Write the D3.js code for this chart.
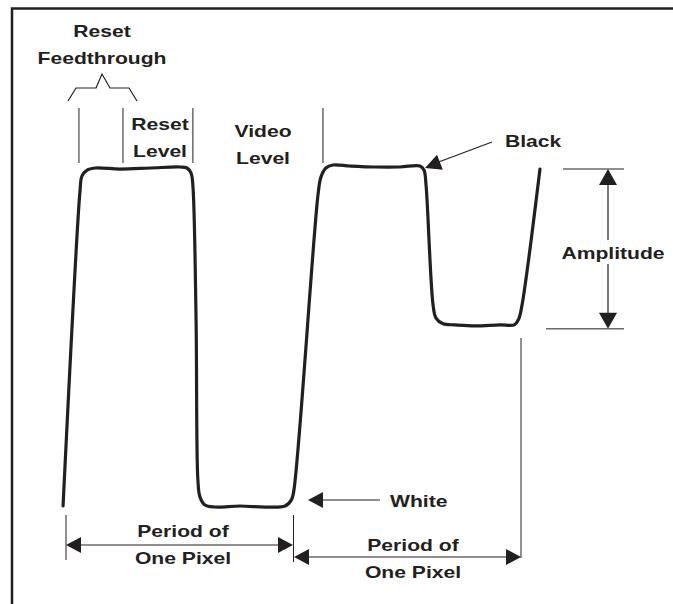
<!DOCTYPE html>
<html>
<head>
<meta charset="utf-8">
<script src="https://cdn.jsdelivr.net/npm/d3@7"></script>
<style>
  body { margin: 0; background: #fff; }
  text { font-family: "Liberation Sans", Arial, sans-serif; font-weight: bold; fill: #231f20; }
</style>
</head>
<body>
<script>
// CCD output waveform diagram

var width = 673,
    height = 604;

// waveform samples: t in pixel periods, v as level (0 = white, 1 = reset/black)
var waveT = [-0.013, 0.062, 0.070, 0.093, 0.128, 0.238, 0.370, 0.502, 0.533, 0.551, 0.559, 0.573, 0.581, 0.590, 0.612, 0.656, 0.767, 0.877, 0.965, 0.993, 1.004, 1.110, 1.123, 1.145, 1.176, 1.251, 1.361, 1.471, 1.559, 1.577, 1.586, 1.617, 1.630, 1.661, 1.714, 1.802, 1.912, 1.975, 1.994, 2.009, 2.088];
var waveV = [-0.003, 0.932, 0.973, 0.991, 0.997, 0.994, 0.997, 1.0, 0.997, 0.982, 0.944, 0.547, 0.074, 0.024, 0.0, -0.006, -0.003, -0.006, -0.003, 0.015, 0.044, 0.917, 0.970, 0.997, 1.006, 1.003, 1.0, 1.0, 1.003, 0.991, 0.947, 0.592, 0.553, 0.536, 0.533, 0.530, 0.533, 0.533, 0.550, 0.592, 0.994];

// reset feedthrough / reset level / video level marker positions (pixel periods)
var phaseMarks = [0.057, 0.251, 0.559, 1.132];
var periods = [0, 1, 2];
var blackLevel = 1, videoLevel = 0.533, whiteLevel = 0;

var svg = d3.select("body")
            .append("svg")
            .attr("width", width)
            .attr("height", height);

var x = d3.scaleLinear().domain([0, 2]).range([66, 520]);
var y = d3.scaleLinear().domain([0, 1]).range([505, 167]);

var ink = "#231f20";

// frame (top and left edge only visible)
svg.append("path")
    .attr("d", "M12,640V8.5H690")
    .attr("fill", "none")
    .attr("stroke", ink)
    .attr("stroke-width", 2.5);

// arrowhead helper: filled triangle with tip at (tx,ty) pointing in dir (radians)
function arrowHead(tx, ty, ang, len, half) {
  var bx = tx - len * Math.cos(ang), by = ty - len * Math.sin(ang);
  var px = -Math.sin(ang) * half, py = Math.cos(ang) * half;
  svg.append("path")
      .attr("d", "M" + tx + "," + ty + "L" + (bx + px) + "," + (by + py) + "L" + (bx - px) + "," + (by - py) + "Z")
      .attr("fill", ink);
}
function line(x1, y1, x2, y2, w) {
  svg.append("line")
      .attr("x1", x1).attr("y1", y1).attr("x2", x2).attr("y2", y2)
      .attr("stroke", ink).attr("stroke-width", w || 1.2);
}

// waveform
var wave = d3.line()
    .x(function(d) { return x(d[0]); })
    .y(function(d) { return y(d[1]); })
    .curve(d3.curveCatmullRom.alpha(0.5));

svg.append("path")
    .datum(d3.zip(waveT, waveV))
    .attr("d", wave)
    .attr("fill", "none")
    .attr("stroke", ink)
    .attr("stroke-width", 3.2)
    .attr("stroke-linejoin", "round")
    .attr("stroke-linecap", "round");

// phase marker lines
phaseMarks.forEach(function(t) {
  line(x(t), 108, x(t), 163, 1);
});

// reset feedthrough brace
svg.append("path")
    .attr("d", "M68,101L76,88H96L102,74L110,88H129L137,101")
    .attr("fill", "none")
    .attr("stroke", ink)
    .attr("stroke-width", 1.2);

// labels are slightly stretched horizontally like the source artwork
function label(tx, ty, lines, anchor, dy) {
  var t = svg.append("g")
      .attr("transform", "translate(" + tx + "," + ty + ") scale(1.28,1)")
    .append("text")
      .attr("text-anchor", anchor || "middle")
      .attr("font-size", 16.5);
  lines.forEach(function(s, i) {
    t.append("tspan").attr("x", 0).attr("dy", i ? (dy || 27) : 0).text(s);
  });
  return t;
}

label(102, 37, ["Reset", "Feedthrough"]);
label(160, 130, ["Reset", "Level"]);
label(263, 137, ["Video", "Level"]);

// Black arrow
line(492, 142, 436, 163, 1.2);
arrowHead(425, 168, Math.atan2(168 - 142, 425 - 492), 16, 8);
label(505, 147, ["Black"], "start");

// White arrow
line(380, y(whiteLevel) - 5, 318, y(whiteLevel) - 5, 1.2);
arrowHead(308, y(whiteLevel) - 5, Math.PI, 15, 8);
label(390, 507, ["White"], "start");

// Amplitude
line(563, y(blackLevel) + 2, 624, y(blackLevel) + 2, 1);
line(546, y(videoLevel) + 4, 624, y(videoLevel) + 4, 1);
line(608, y(blackLevel) + 14, 608, y(videoLevel) - 10, 1.2);
arrowHead(608, y(blackLevel) + 2, -Math.PI / 2, 16, 9);
arrowHead(608, y(videoLevel) + 4, Math.PI / 2, 16, 9);
svg.append("rect").attr("x", 558).attr("y", 240).attr("width", 110).attr("height", 24).attr("fill", "#fff");
label(613, 259, ["Amplitude"]);

// period ticks
line(x(periods[0]), 515, x(periods[0]), 560, 1);
line(x(periods[1]) + 0.5, 515, x(periods[1]) + 0.5, 562, 1);
line(x(periods[2]) + 1, 338, x(periods[2]) + 1, 558, 1);

// period arrows
line(x(periods[0]) + 10, 545, x(periods[1]) - 10, 545, 1.2);
arrowHead(x(periods[0]), 545, Math.PI, 15, 8);
arrowHead(x(periods[1]), 545, 0, 15, 8);
line(x(periods[1]) + 10, 557, x(periods[2]) - 10, 557, 1.2);
arrowHead(x(periods[1]) + 1, 557, Math.PI, 15, 8);
arrowHead(x(periods[2]) + 1, 557, 0, 15, 8);

label(183, 537, ["Period of", "One Pixel"]);
label(413, 551, ["Period of", "One Pixel"]);
</script>
</body>
</html>
